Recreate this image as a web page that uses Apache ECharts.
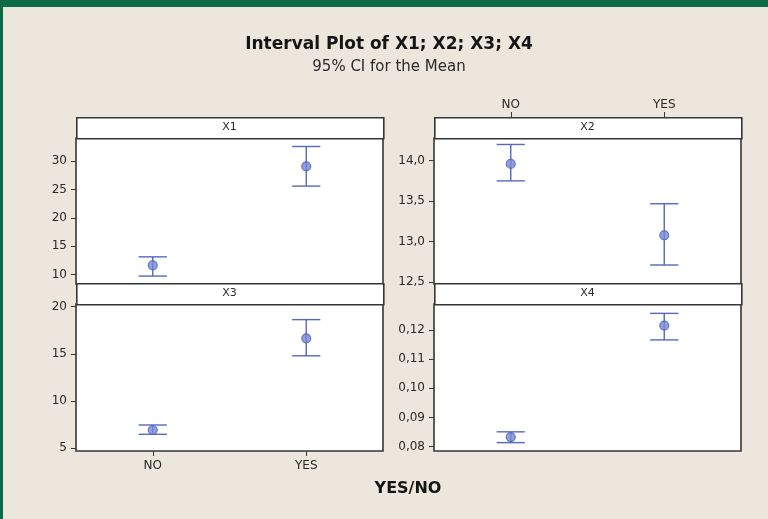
<!DOCTYPE html>
<html>
<head>
<meta charset="utf-8">
<script src="https://cdn.jsdelivr.net/npm/echarts@6/dist/echarts.min.js"></script>
<style>html,body{margin:0;padding:0;background:#ece6dc;}#c{width:768px;height:519px;}</style>
</head>
<body>
<div id="c"></div>
<script>
const categories = ['NO', 'YES'];
const panelNames = ['X1', 'X2', 'X3', 'X4'];

const x1Mean = [11.6, 29.1];
const x1Low = [9.7, 25.6];
const x1High = [13.1, 32.6];

const x2Mean = [13.96, 13.077];
const x2Low = [13.75, 12.71];
const x2High = [14.2, 13.467];

const x3Mean = [6.94, 16.65];
const x3Low = [6.48, 14.8];
const x3High = [7.47, 18.63];

const x4Mean = [0.0833, 0.1215];
const x4Low = [0.0814, 0.1166];
const x4High = [0.0851, 0.1257];

const x1Ticks = [10, 15, 20, 25, 30];
const x2Ticks = [12.5, 13.0, 13.5, 14.0];
const x3Ticks = [5, 10, 15, 20];
const x4Ticks = [0.08, 0.09, 0.10, 0.11, 0.12];

const FONT = 'DejaVu Sans';
const BORDER = '#363636';
const BLUE = '#5568c0';

const panels = [
  {name: panelNames[0], mean: x1Mean, low: x1Low, high: x1High, ticks: x1Ticks, dec: 0, min: 8.3, max: 34.1,
   grid: {left: 76, top: 138, width: 307, height: 146}, xPos: 'bottom', showX: false},
  {name: panelNames[1], mean: x2Mean, low: x2Low, high: x2High, ticks: x2Ticks, dec: 1, min: 12.475, max: 14.28,
   grid: {left: 434, top: 138, width: 307, height: 146}, xPos: 'top', showX: true},
  {name: panelNames[2], mean: x3Mean, low: x3Low, high: x3High, ticks: x3Ticks, dec: 0, min: 4.714, max: 20.286,
   grid: {left: 76, top: 304, width: 307, height: 147}, xPos: 'bottom', showX: true},
  {name: panelNames[3], mean: x4Mean, low: x4Low, high: x4High, ticks: x4Ticks, dec: 2, min: 0.07853, max: 0.12891,
   grid: {left: 434, top: 304, width: 307, height: 147}, xPos: 'bottom', showX: false}
];

const HEADER_H = 20;

function renderErr(params, api) {
  const x = api.value(0), lo = api.value(1), hi = api.value(2);
  const pLo = api.coord([x, lo]);
  const pHi = api.coord([x, hi]);
  const hw = api.size([1, 0])[0] * 0.092;
  const st = {stroke: BLUE, lineWidth: 1.4};
  return {
    type: 'group',
    children: [
      {type: 'line', shape: {x1: pLo[0], y1: pLo[1], x2: pHi[0], y2: pHi[1]}, style: st},
      {type: 'line', shape: {x1: pLo[0] - hw, y1: pLo[1], x2: pLo[0] + hw, y2: pLo[1]}, style: st},
      {type: 'line', shape: {x1: pHi[0] - hw, y1: pHi[1], x2: pHi[0] + hw, y2: pHi[1]}, style: st}
    ]
  };
}

const grids = [], xAxes = [], yAxes = [], series = [], graphics = [];

panels.forEach((p, i) => {
  grids.push(Object.assign({show: true, backgroundColor: '#ffffff', borderColor: BORDER, borderWidth: 1.6}, p.grid));
  xAxes.push({
    type: 'category', gridIndex: i, data: categories, position: p.xPos,
    offset: p.xPos === 'top' ? HEADER_H + 1 : 0,
    axisLine: {show: false},
    axisTick: {show: p.showX, alignWithLabel: true, length: 5, lineStyle: {color: BORDER, width: 1}},
    axisLabel: {show: p.showX, color: '#2a2a2a', fontFamily: FONT, fontSize: 12, margin: p.xPos === 'top' ? 6 : 9},
    splitLine: {show: false}
  });
  const dec = p.dec;
  yAxes.push({
    type: 'value', gridIndex: i, min: p.min, max: p.max,
    axisLine: {show: false},
    axisTick: {show: true, length: 5, customValues: p.ticks, lineStyle: {color: BORDER, width: 1}},
    axisLabel: {show: true, customValues: p.ticks, color: '#2a2a2a', fontFamily: FONT, fontSize: 12, margin: 9,
      formatter: v => Number(v).toFixed(dec).replace('.', ',')},
    splitLine: {show: false}
  });
  series.push({
    type: 'custom', xAxisIndex: i, yAxisIndex: i, renderItem: renderErr,
    encode: {x: 0, y: [1, 2]},
    data: categories.map((c, k) => [k, p.low[k], p.high[k]]),
    silent: true, z: 2
  });
  series.push({
    type: 'scatter', xAxisIndex: i, yAxisIndex: i, symbol: 'circle', symbolSize: 9,
    itemStyle: {color: '#7587d4', borderColor: '#4d62bb', borderWidth: 1.2},
    data: categories.map((c, k) => [k, p.mean[k]]),
    silent: true, z: 3
  });
  graphics.push({
    type: 'rect', left: p.grid.left, top: p.grid.top - HEADER_H - 1,
    shape: {width: p.grid.width, height: HEADER_H + 1},
    style: {fill: '#ffffff', stroke: BORDER, lineWidth: 1.6}, z: 10
  });
  graphics.push({
    type: 'text', x: p.grid.left + p.grid.width / 2, y: p.grid.top - HEADER_H / 2 - 0.5,
    style: {text: p.name, fill: '#2a2a2a', font: '11px "' + FONT + '"', textAlign: 'center', textVerticalAlign: 'middle'}, z: 11
  });
});

graphics.push({type: 'rect', left: 0, top: 0, shape: {width: 768, height: 7}, style: {fill: '#0a6b45'}, z: 20});
graphics.push({type: 'rect', left: 0, top: 0, shape: {width: 3, height: 519}, style: {fill: '#0a6b45'}, z: 20});
graphics.push({type: 'text', x: 389, y: 45,
  style: {text: 'Interval Plot of X1; X2; X3; X4', fill: '#151515', font: 'bold 17px "' + FONT + '"', textAlign: 'center', textVerticalAlign: 'middle'}, z: 20});
graphics.push({type: 'text', x: 389, y: 67,
  style: {text: '95% CI for the Mean', fill: '#2a2a2a', font: '15px "' + FONT + '"', textAlign: 'center', textVerticalAlign: 'middle'}, z: 20});
graphics.push({type: 'text', x: 408, y: 489,
  style: {text: 'YES/NO', fill: '#151515', font: 'bold 16px "' + FONT + '"', textAlign: 'center', textVerticalAlign: 'middle'}, z: 20});

const chart = echarts.init(document.getElementById('c'), null, {renderer: 'canvas'});
chart.setOption({
  backgroundColor: '#ece6dc',
  animation: false,
  grid: grids,
  xAxis: xAxes,
  yAxis: yAxes,
  series: series,
  graphic: graphics
});
</script>
</body>
</html>
